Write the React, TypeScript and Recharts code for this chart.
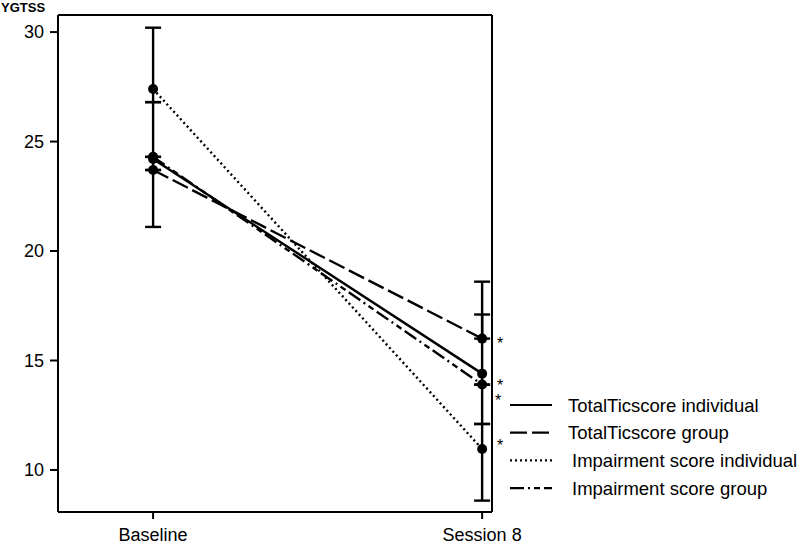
import React from "react";
import { ComposedChart, Line, XAxis, YAxis, ErrorBar, Legend, ReferenceLine } from "recharts";

const categories = ["Baseline", "Session 8"];
const seriesNames = [
  "TotalTicscore individual",
  "TotalTicscore group",
  "Impairment score individual",
  "Impairment score group",
];
const totalTicIndividual = [24.2, 14.4];
const totalTicGroup = [23.7, 16.0];
const impairmentIndividual = [27.4, 10.96];
const impairmentGroup = [24.3, 13.9];
// asymmetric error bars [below, above]
const totalTicIndividualErr = [[3.1, 2.6], [2.3, 2.7]];
const totalTicGroupErr = [[0, 0], [0, 2.6]];
const impairmentIndividualErr = [[0.6, 2.8], [2.36, 1.14]];
const impairmentGroupErr = [[0, 0], [0, 0]];
const significance = ["", "*"];
const yTicks = [10, 15, 20, 25, 30];
const xDomain = [-0.289, 1.03];
const yDomain = [8.08, 30.78];

const data = categories.map((c, i) => ({
  x: i,
  name: c,
  ti: totalTicIndividual[i],
  tg: totalTicGroup[i],
  ii: impairmentIndividual[i],
  ig: impairmentGroup[i],
  tiErr: totalTicIndividualErr[i],
  tgErr: totalTicGroupErr[i],
  iiErr: impairmentIndividualErr[i],
  igErr: impairmentGroupErr[i],
  sig: significance[i],
}));

const FONT = "'Liberation Sans', Arial, sans-serif";
const dashes = ["0", "17 5", "2 3", "14 4 2 4 6 4"];
const keys = ["ti", "tg", "ii", "ig"];
const starDy = [8, 1, -7, 12];
const starDx = [18, 18, 18, 16];
const legendTextX = [63, 63, 67, 67];

const makeStar = (si: number) => (p: any) => {
  if (p.index !== 1 || !significance[p.index]) return <g key={`s${si}-${p.index}`} />;
  return (
    <text
      key={`s${si}-${p.index}`}
      x={p.x + starDx[si]}
      y={p.y + starDy[si] + 9}
      textAnchor="middle"
      fontFamily={FONT}
      fontSize={16}
      fill="#000"
    >
      {significance[p.index]}
    </text>
  );
};

const LegendBox = () => (
  <svg width={300} height={110} style={{ display: "block" }}>
    {seriesNames.map((n, i) => {
      const y = 12 + i * 27.7;
      return (
        <g key={n}>
          <line
            x1={5}
            x2={47}
            y1={y}
            y2={y}
            stroke="#000"
            strokeWidth={2.2}
            strokeDasharray={dashes[i] === "0" ? undefined : dashes[i]}
          />
          <text
            x={legendTextX[i]}
            y={y + 6.5}
            fontFamily={FONT}
            fontSize={18.5}
            fill="#000"
          >
            {n}
          </text>
        </g>
      );
    })}
  </svg>
);

export default function App() {
  return (
    <div style={{ position: "absolute", left: 0, top: 0, width: 800, height: 545, background: "#fff" }}>
      <svg style={{ position: "absolute", left: 0, top: 0 }} width={80} height={20}>
        <text x={1} y={12} fontFamily={FONT} fontSize={13} fontWeight="bold" fill="#000">
          YGTSS
        </text>
      </svg>
      <ComposedChart
        width={800}
        height={545}
        data={data}
        margin={{ top: 15, right: 308, left: 0, bottom: 0 }}
      >
        <XAxis
          dataKey="x"
          type="number"
          domain={xDomain}
          ticks={[0, 1]}
          allowDataOverflow
          tickFormatter={(v: number) => categories[v]}
          height={33}
          tickSize={7}
          tickMargin={9}
          axisLine={{ stroke: "#000", strokeWidth: 2 }}
          tickLine={{ stroke: "#000", strokeWidth: 2 }}
          tick={{ fill: "#000", fontSize: 18, fontFamily: FONT }}
        />
        <YAxis
          type="number"
          domain={yDomain}
          ticks={yTicks}
          allowDataOverflow
          width={58}
          tickSize={8}
          tickMargin={6}
          axisLine={{ stroke: "#000", strokeWidth: 2 }}
          tickLine={{ stroke: "#000", strokeWidth: 2 }}
          tick={{ fill: "#000", fontSize: 18, fontFamily: FONT }}
        />
        <ReferenceLine y={yDomain[1]} stroke="#000" strokeWidth={2} ifOverflow="visible" />
        <ReferenceLine x={xDomain[1]} stroke="#000" strokeWidth={2} ifOverflow="visible" />
        <Legend
          layout="vertical"
          align="center"
          verticalAlign="middle"
          content={() => <LegendBox />}
          wrapperStyle={{ position: "absolute", left: 505, top: 393, width: 300, height: 110 }}
        />
        {keys.map((k, si) => (
          <Line
            key={k}
            dataKey={k}
            name={seriesNames[si]}
            type="linear"
            stroke="#000"
            strokeWidth={2.4}
            strokeDasharray={dashes[si] === "0" ? undefined : dashes[si]}
            dot={{ r: 5, fill: "#000", stroke: "#000", strokeWidth: 0 }}
            activeDot={false}
            isAnimationActive={false}
            label={makeStar(si)}
          >
            <ErrorBar
              dataKey={`${k}Err`}
              direction="y"
              width={8}
              stroke="#000"
              strokeWidth={2.4}
              isAnimationActive={false}
            />
          </Line>
        ))}
      </ComposedChart>
    </div>
  );
}
